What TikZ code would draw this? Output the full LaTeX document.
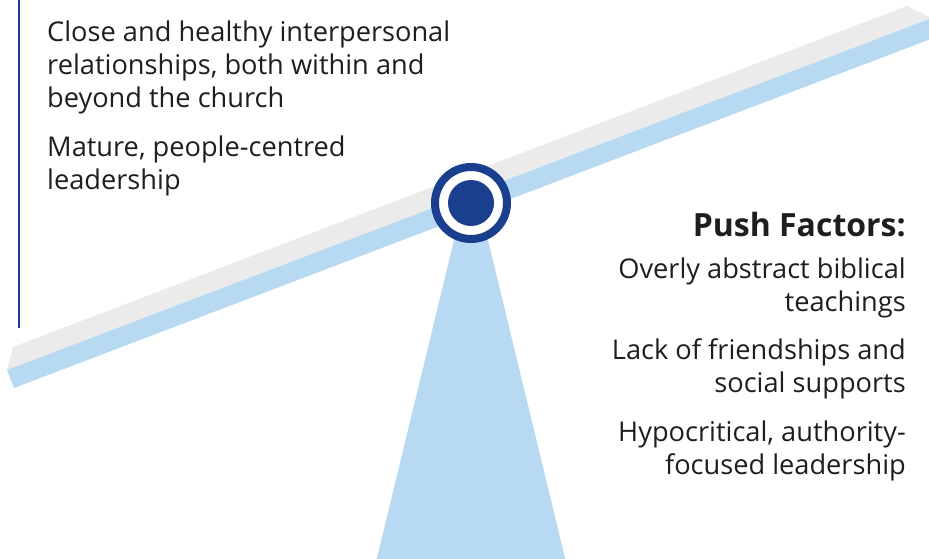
\documentclass[tikz,border=0pt]{standalone}
\usepackage{fontspec}
\setmainfont{Open Sans}
\usetikzlibrary{positioning}

\definecolor{beamgrey}{HTML}{EBEBEB}
\definecolor{beamblue}{HTML}{B8D9F2}
\definecolor{pivotblue}{HTML}{1A3F8F}
\definecolor{textblack}{HTML}{1E1E1E}

\tikzset{
  factor/.style={inner sep=0pt, text=textblack, font=\fontsize{27.2}{33}\selectfont},
  pullfactor/.style={factor, align=left, anchor=north west},
  pushfactor/.style={factor, align=right, anchor=north east},
  heading/.style={inner sep=0pt, text=textblack, font=\fontsize{32}{36}\selectfont\bfseries, anchor=north east},
}

\begin{document}
\begin{tikzpicture}[x=1pt, y=-1pt]
\useasboundingbox (0,0) rectangle (929,558);
\clip (0,0) rectangle (929,558);

% stand under the pivot
\fill[beamblue] (471,170) -- (566,562) -- (376,562) -- cycle;

% tilted beam: top face and front face
\fill[beamgrey] (13,347) -- (907,6) -- (932,18) -- (7,370) -- cycle;
\fill[beamblue] (7,370) -- (932,18) -- (936,37) -- (14,388) -- cycle;

% pivot
\node[circle, draw=pivotblue, line width=8pt, fill=white, minimum size=72pt, inner sep=0pt] (pivot) at (471,203) {};
\node[circle, fill=pivotblue, minimum size=46pt, inner sep=0pt] (hub) at (pivot) {};

% side bar of the pull list
\coordinate (bartop) at (19,0);
\coordinate (barbottom) at (19,328);
\draw[pivotblue, line width=1.4pt] (bartop) -- (barbottom);

% pull factors
\node[pullfactor] (pull1) at (47,21) {Close and healthy interpersonal\\relationships, both within and\\beyond the church};
\node[pullfactor] (pull2) at (47,136) {Mature, people-centred\\leadership};

% push factors
\node[heading] (push) at (906,212) {Push Factors:};
\node[pushfactor] (push1) at (906,258) {Overly abstract biblical\\teachings};
\node[pushfactor] (push2) at (906,338) {Lack of friendships and\\social supports};
\node[pushfactor] (push3) at (906,421) {Hypocritical, authority-\\focused leadership};
\end{tikzpicture}
\end{document}
